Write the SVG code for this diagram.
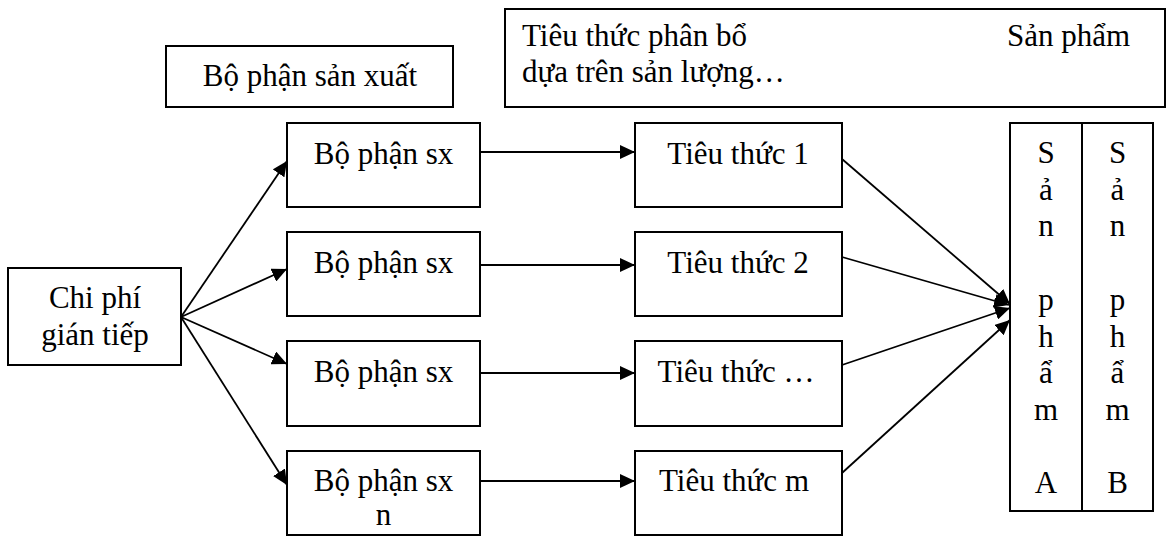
<svg xmlns="http://www.w3.org/2000/svg" width="1168" height="536" viewBox="0 0 1168 536">
<style>
.box{fill:#fff;stroke:#000;stroke-width:2}
.t{font-family:"Liberation Serif","Times New Roman",serif;font-size:31px;fill:#000}
.c{text-anchor:middle}
.ln{stroke:#000;stroke-width:1.8;fill:none;marker-end:url(#ah)}
</style>
<defs>
<marker id="ah" markerUnits="userSpaceOnUse" markerWidth="16" markerHeight="14" refX="15" refY="7" orient="auto">
<path d="M0,0 L15,7 L0,14 Z" fill="#000"/>
</marker>
</defs>
<g id="bpsx-title">
<rect class="box" x="166" y="46" width="287" height="61"/>
<text class="t c" x="310" y="86">Bộ phận sản xuất</text>
</g>
<g id="tieuthuc-title">
<rect class="box" x="505" y="9" width="660" height="98"/>
<text class="t" x="522" y="46">Tiêu thức phân bổ</text>
<text class="t" x="522" y="82">dựa trên sản lượng…</text>
<text class="t" x="1007" y="46">Sản phẩm</text>
</g>
<g id="chiphi">
<rect class="box" x="8" y="268" width="173" height="97"/>
<text class="t c" x="95" y="308">Chi phí</text>
<text class="t c" x="95" y="345">gián tiếp</text>
</g>
<g id="bp1">
<rect class="box" x="287" y="123" width="193" height="84"/>
<text class="t c" x="383.5" y="164">Bộ phận sx</text>
</g>
<g id="bp2">
<rect class="box" x="287" y="232" width="193" height="84"/>
<text class="t c" x="383.5" y="273">Bộ phận sx</text>
</g>
<g id="bp3">
<rect class="box" x="287" y="341" width="193" height="85"/>
<text class="t c" x="383.5" y="382">Bộ phận sx</text>
</g>
<g id="bp4">
<rect class="box" x="287" y="451" width="193" height="84"/>
<text class="t c" x="383.5" y="491">Bộ phận sx</text>
<text class="t c" x="383.5" y="525">n</text>
</g>
<g id="tt1">
<rect class="box" x="635" y="123" width="207" height="84"/>
<text class="t c" x="738" y="164">Tiêu thức 1</text>
</g>
<g id="tt2">
<rect class="box" x="635" y="232" width="207" height="84"/>
<text class="t c" x="738" y="273">Tiêu thức 2</text>
</g>
<g id="tt3">
<rect class="box" x="635" y="341" width="207" height="85"/>
<text class="t c" x="736" y="382">Tiêu thức …</text>
</g>
<g id="ttm">
<rect class="box" x="635" y="451" width="207" height="84"/>
<text class="t c" x="734" y="491">Tiêu thức m</text>
</g>
<g id="sanpham">
<rect class="box" x="1010" y="123" width="143" height="388"/>
<line x1="1082" y1="123" x2="1082" y2="511" stroke="#000" stroke-width="2"/>
<g class="t c">
<text x="1046" y="163">S</text>
<text x="1046" y="199.7">ả</text>
<text x="1046" y="236.4">n</text>
<text x="1046" y="309.8">p</text>
<text x="1046" y="346.5">h</text>
<text x="1046" y="383">ẩ</text>
<text x="1046" y="420">m</text>
<text x="1046" y="493.3">A</text>
<text x="1117.5" y="163">S</text>
<text x="1117.5" y="199.7">ả</text>
<text x="1117.5" y="236.4">n</text>
<text x="1117.5" y="309.8">p</text>
<text x="1117.5" y="346.5">h</text>
<text x="1117.5" y="383">ẩ</text>
<text x="1117.5" y="420">m</text>
<text x="1117.5" y="493.3">B</text>
</g>
</g>
<g id="connectors">
<line class="ln" x1="181" y1="317" x2="287" y2="161"/>
<line class="ln" x1="181" y1="317" x2="287" y2="269"/>
<line class="ln" x1="181" y1="317" x2="287" y2="364"/>
<line class="ln" x1="181" y1="317" x2="287" y2="485"/>
<line class="ln" x1="480" y1="152" x2="635" y2="152"/>
<line class="ln" x1="480" y1="265" x2="635" y2="265"/>
<line class="ln" x1="480" y1="373" x2="635" y2="373"/>
<line class="ln" x1="480" y1="481" x2="635" y2="481"/>
<line class="ln" x1="842" y1="159" x2="1010" y2="304"/>
<line class="ln" x1="842" y1="257" x2="1009" y2="305"/>
<line class="ln" x1="842" y1="365" x2="1010" y2="308"/>
<line class="ln" x1="842" y1="473" x2="1010" y2="320"/>
</g>
</svg>
